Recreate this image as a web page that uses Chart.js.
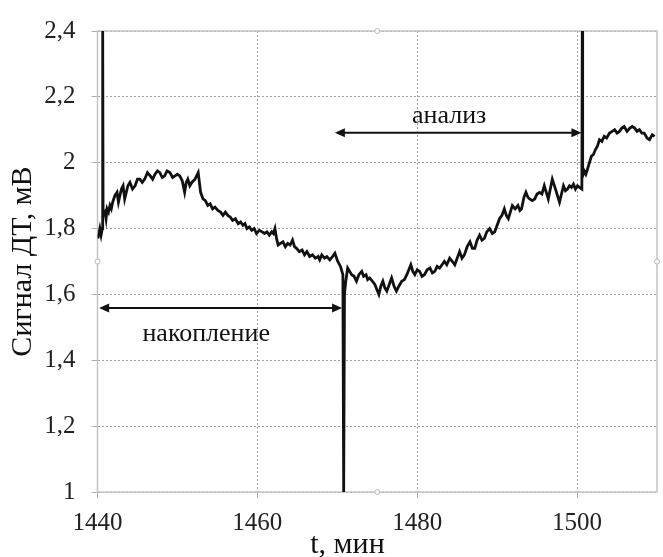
<!DOCTYPE html>
<html>
<head>
<meta charset="utf-8">
<script src="https://cdn.jsdelivr.net/npm/chart.js@4"></script>
<style>
  html, body { margin: 0; padding: 0; background: #fff; }
  canvas { display: block; }
</style>
</head>
<body>
<canvas id="signal" width="663" height="557"></canvas>
<script>
// time, min
const times = [
  1440.06, 1440.3, 1440.45, 1440.6, 1440.65, 1440.7, 1440.94, 1441.07, 1441.2, 1441.38,
  1441.56, 1441.73, 1441.9, 1442.17, 1442.44, 1442.62, 1442.8, 1443.0, 1443.2, 1443.4,
  1443.6, 1443.8, 1444.06, 1444.38, 1444.7, 1445.0, 1445.3, 1445.6, 1445.9, 1446.25,
  1446.6, 1446.9, 1447.2, 1447.5, 1447.8, 1448.1, 1448.4, 1448.7, 1449.06, 1449.4,
  1449.7, 1450.0, 1450.3, 1450.6, 1450.9, 1451.1, 1451.3, 1451.55, 1451.8, 1452.2,
  1452.6, 1452.9, 1453.2, 1453.5, 1453.8, 1454.1, 1454.4, 1454.7, 1455.06, 1455.4,
  1455.7, 1456.0, 1456.3, 1456.6, 1456.9, 1457.25, 1457.6, 1457.9, 1458.2, 1458.45,
  1458.7, 1459.0, 1459.3, 1459.6, 1459.9, 1460.25, 1460.6, 1460.9, 1461.2, 1461.5,
  1461.8, 1462.0, 1462.2, 1462.4, 1462.6, 1462.9, 1463.2, 1463.5, 1463.8, 1464.1,
  1464.4, 1464.65, 1464.9, 1465.25, 1465.6, 1465.9, 1466.2, 1466.55, 1466.9, 1467.25,
  1467.6, 1467.8, 1468.06, 1468.4, 1468.7, 1469.06, 1469.4, 1469.7, 1470.06, 1470.4,
  1470.7, 1470.8, 1470.9, 1471.06, 1471.3, 1471.55, 1471.8, 1472.1, 1472.4, 1472.7,
  1473.06, 1473.3, 1473.6, 1473.8, 1474.06, 1474.4, 1474.7, 1474.95, 1475.2, 1475.45,
  1475.7, 1475.95, 1476.2, 1476.5, 1476.8, 1477.1, 1477.4, 1477.7, 1478.06, 1478.4,
  1478.7, 1478.95, 1479.2, 1479.45, 1479.7, 1480.0, 1480.3, 1480.6, 1480.9, 1481.25,
  1481.6, 1481.9, 1482.2, 1482.5, 1482.8, 1483.1, 1483.4, 1483.7, 1484.06, 1484.4,
  1484.7, 1485.0, 1485.3, 1485.6, 1485.9, 1486.25, 1486.6, 1486.9, 1487.2, 1487.5,
  1487.8, 1488.1, 1488.4, 1488.7, 1489.06, 1489.4, 1489.7, 1490.0, 1490.3, 1490.6,
  1490.9, 1491.15, 1491.4, 1491.65, 1491.9, 1492.25, 1492.6, 1492.85, 1493.06, 1493.35,
  1493.6, 1493.85, 1494.06, 1494.4, 1494.7, 1495.0, 1495.3, 1495.6, 1495.9, 1496.15,
  1496.4, 1496.65, 1496.9, 1497.1, 1497.3, 1497.55, 1497.8, 1498.05, 1498.3, 1498.55,
  1498.8, 1499.05, 1499.3, 1499.55, 1499.8, 1500.05, 1500.3, 1500.6, 1500.65, 1500.7,
  1500.9, 1501.1, 1501.3, 1501.55, 1501.8, 1502.05, 1502.3, 1502.55, 1502.8, 1503.1,
  1503.4, 1503.7, 1504.06, 1504.4, 1504.7, 1505.0, 1505.3, 1505.6, 1505.9, 1506.25,
  1506.6, 1506.9, 1507.2, 1507.5, 1507.8, 1508.1, 1508.4, 1508.75, 1509.06, 1509.4,
  1509.7
];

// DT signal, mV
const signal = [
  1.77, 1.80, 1.78, 1.80, 2.40, 1.84, 1.85, 1.83, 1.86, 1.85,
  1.87, 1.86, 1.88, 1.90, 1.91, 1.88, 1.90, 1.92, 1.93, 1.89,
  1.91, 1.93, 1.94, 1.92, 1.93, 1.95, 1.95, 1.94, 1.95, 1.97,
  1.96, 1.95, 1.965, 1.975, 1.97, 1.955, 1.96, 1.975, 1.97, 1.955,
  1.96, 1.965, 1.96, 1.945, 1.91, 1.94, 1.95, 1.93, 1.94, 1.95,
  1.97, 1.91, 1.89, 1.885, 1.87, 1.875, 1.86, 1.865, 1.855, 1.85,
  1.84, 1.85, 1.84, 1.835, 1.825, 1.83, 1.815, 1.82, 1.81, 1.815,
  1.80, 1.805, 1.795, 1.80, 1.785, 1.795, 1.79, 1.785, 1.79, 1.78,
  1.79, 1.785, 1.80, 1.77, 1.75, 1.755, 1.76, 1.745, 1.755, 1.75,
  1.765, 1.745, 1.74, 1.73, 1.735, 1.72, 1.73, 1.715, 1.72, 1.71,
  1.715, 1.705, 1.72, 1.71, 1.715, 1.705, 1.715, 1.725, 1.70, 1.685,
  1.66, 1.00, 1.60, 1.64, 1.68, 1.67, 1.66, 1.655, 1.64, 1.66,
  1.67, 1.655, 1.66, 1.645, 1.65, 1.64, 1.63, 1.615, 1.60, 1.625,
  1.64, 1.62, 1.61, 1.63, 1.65, 1.625, 1.61, 1.625, 1.64, 1.645,
  1.66, 1.675, 1.69, 1.67, 1.66, 1.675, 1.67, 1.655, 1.66, 1.675,
  1.68, 1.665, 1.67, 1.685, 1.68, 1.69, 1.70, 1.69, 1.71, 1.70,
  1.69, 1.71, 1.73, 1.71, 1.72, 1.745, 1.76, 1.74, 1.74, 1.765,
  1.78, 1.765, 1.77, 1.79, 1.80, 1.785, 1.79, 1.81, 1.83, 1.84,
  1.86, 1.84, 1.83, 1.85, 1.87, 1.86, 1.87, 1.855, 1.86, 1.895,
  1.91, 1.895, 1.89, 1.885, 1.89, 1.905, 1.91, 1.905, 1.93, 1.91,
  1.89, 1.92, 1.95, 1.935, 1.92, 1.90, 1.88, 1.905, 1.93, 1.915,
  1.92, 1.93, 1.925, 1.935, 1.92, 1.93, 1.925, 1.92, 2.40, 1.96,
  1.975, 1.965, 1.98, 2.00, 2.02, 2.025, 2.04, 2.05, 2.07, 2.065,
  2.08, 2.075, 2.09, 2.095, 2.10, 2.09, 2.095, 2.105, 2.11, 2.095,
  2.105, 2.11, 2.105, 2.095, 2.10, 2.09, 2.09, 2.075, 2.07, 2.085,
  2.08
];

const xTicks = [1440, 1460, 1480, 1500];
const yTicks = [1, 1.2, 1.4, 1.6, 1.8, 2, 2.2, 2.4];

// phase arrows: from, to (min), level (mV), label and its place
const phases = [
  { from: 1440.2, to: 1470.6, level: 1.559, label: "накопление", labelT: 1453.6, labelV: 1.48 },
  { from: 1469.7, to: 1500.55, level: 2.091, label: "анализ", labelT: 1484.0, labelV: 2.14 }
];

const serif = "'Times New Roman', 'Liberation Serif', 'DejaVu Serif', serif";
const gridColor = "#a0a0a0";

let data = [];
for (let i = 0; i < times.length; i++) {
  data.push({ x: times[i], y: signal[i] });
}

function arrowHead(ctx, x, y, dir) {
  ctx.beginPath();
  ctx.moveTo(x, y);
  ctx.lineTo(x - dir * 10, y - 4.5);
  ctx.lineTo(x - dir * 10, y + 4.5);
  ctx.closePath();
  ctx.fill();
}

const decor = {
  id: "decor",
  beforeDatasetsDraw(chart) {
    const ctx = chart.ctx;
    const a = chart.chartArea;
    // plot frame
    ctx.save();
    ctx.strokeStyle = "#c4c4c4";
    ctx.lineWidth = 1.5;
    ctx.strokeRect(a.left, a.top, a.right - a.left, a.bottom - a.top);
    ctx.fillStyle = "#fff";
    ctx.strokeStyle = "#b8b8b8";
    ctx.lineWidth = 1;
    let mx = (a.left + a.right) / 2, my = (a.top + a.bottom) / 2;
    for (let p of [[mx, a.top], [mx, a.bottom], [a.left, my], [a.right, my]]) {
      ctx.beginPath();
      ctx.arc(p[0], p[1], 2.5, 0, Math.PI * 2);
      ctx.fill();
      ctx.stroke();
    }
    ctx.restore();
  },
  afterDatasetsDraw(chart) {
    const ctx = chart.ctx;
    const xs = chart.scales.x;
    const ys = chart.scales.y;
    const a = chart.chartArea;
    ctx.save();
    ctx.strokeStyle = "#111";
    ctx.fillStyle = "#111";
    ctx.lineWidth = 2;
    ctx.font = "26px " + serif;
    ctx.textAlign = "center";
    ctx.textBaseline = "middle";
    for (let p of phases) {
      let x1 = xs.getPixelForValue(p.from);
      let x2 = xs.getPixelForValue(p.to);
      let y = ys.getPixelForValue(p.level);
      ctx.beginPath();
      ctx.moveTo(x1 + 6, y);
      ctx.lineTo(x2 - 6, y);
      ctx.stroke();
      arrowHead(ctx, x1, y, -1);
      arrowHead(ctx, x2, y, 1);
      ctx.fillText(p.label, xs.getPixelForValue(p.labelT), ys.getPixelForValue(p.labelV));
    }

    // axis titles
    ctx.font = "30px " + serif;
    ctx.fillStyle = "#111";
    ctx.fillText("t, мин", a.left + 250, 545);
    ctx.translate(23, (a.top + a.bottom) / 2);
    ctx.rotate(-Math.PI / 2);
    ctx.fillText("Сигнал ДТ, мВ", 0, 0);
    ctx.restore();
  }
};

function fmt(v) {
  return String(Math.round(v * 10) / 10).replace(".", ",");
}

new Chart(document.getElementById("signal"), {
  type: "line",
  data: {
    datasets: [
      {
        data,
        borderColor: "#111",
        borderWidth: 2.8,
        pointRadius: 0,
        tension: 0,
        fill: false
      }
    ]
  },
  options: {
    responsive: false,
    animation: false,
    devicePixelRatio: 1,
    layout: { padding: { top: 29, right: 6, left: 0, bottom: 0 } },
    plugins: { legend: { display: false }, tooltip: { enabled: false } },
    scales: {
      x: {
        type: "linear",
        min: 1440,
        max: 1510,
        afterBuildTicks: (s) => { s.ticks = xTicks.map((v) => ({ value: v })); },
        afterFit: (s) => { s.height = 65; },
        ticks: {
          color: "#222",
          font: { family: serif, size: 25 },
          padding: 10,
          maxRotation: 0,
          callback: (v) => String(v)
        },
        grid: { color: gridColor, lineWidth: 1, tickLength: 6, tickColor: "#b0b0b0" },
        border: { display: false, dash: [2, 2] }
      },
      y: {
        min: 1,
        max: 2.4,
        afterBuildTicks: (s) => { s.ticks = yTicks.map((v) => ({ value: v })); },
        afterFit: (s) => { s.width = 97.5; },
        ticks: {
          color: "#222",
          font: { family: serif, size: 25 },
          padding: 16,
          callback: (v) => fmt(v)
        },
        grid: { color: gridColor, lineWidth: 1, tickLength: 6, tickColor: "#b0b0b0" },
        border: { display: false, dash: [2, 2] }
      }
    }
  },
  plugins: [decor]
});
</script>
</body>
</html>
